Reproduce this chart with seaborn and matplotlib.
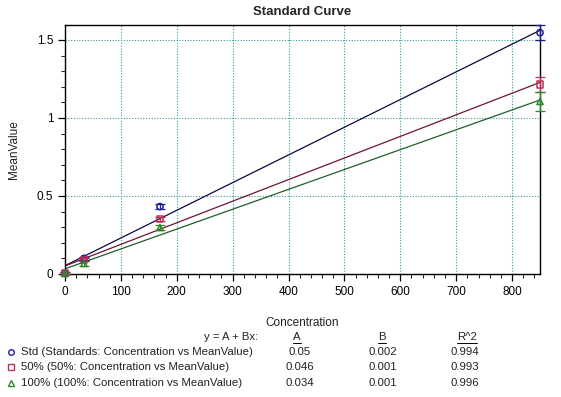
import numpy as np
import pandas as pd
import matplotlib
matplotlib.use("Agg")
import matplotlib.pyplot as plt
from matplotlib.ticker import MultipleLocator
import seaborn as sns

# ---- data ----
conc = [0, 34, 170, 850]
std_vals = [0.005, 0.10, 0.432, 1.547]
std_err = [0.008, 0.010, 0.014, 0.048]
p50_vals = [0.005, 0.092, 0.353, 1.215]
p50_err = [0.008, 0.010, 0.012, 0.050]
p100_vals = [0.003, 0.068, 0.298, 1.106]
p100_err = [0.008, 0.018, 0.016, 0.060]

series_names = ["Std (Standards: Concentration vs MeanValue)",
                "50% (50%: Concentration vs MeanValue)",
                "100% (100%: Concentration vs MeanValue)"]
coef_A = ["0.05", "0.046", "0.034"]
coef_B = ["0.002", "0.001", "0.001"]
coef_R2 = ["0.994", "0.993", "0.996"]

x_ticks = [0, 100, 200, 300, 400, 500, 600, 700, 800]
y_ticks = [0, 0.5, 1, 1.5]
y_tick_labels = ["0", "0.5", "1", "1.5"]

sns.set_style("white")
plt.rcParams['font.family'] = ['Liberation Sans', 'DejaVu Sans']

fig = plt.figure(figsize=(5.61, 3.97), dpi=100)
ax = fig.add_axes([65/561, 1-274/397, 475/561, 249/397])

marker_cols = ["#1c1c9c", "#c0305a", "#2a8a2a"]
line_cols = ["#0a0a40", "#701530", "#1f5f2a"]
markers = ["o", "s", "^"]
vals_list = [std_vals, p50_vals, p100_vals]
err_list = [std_err, p50_err, p100_err]

for vals, errs, mc, lc, mk in zip(vals_list, err_list, marker_cols, line_cols, markers):
    df = pd.DataFrame({"Concentration": conc, "MeanValue": vals})
    sns.regplot(data=df, x="Concentration", y="MeanValue", ax=ax, ci=None,
                scatter=False, line_kws=dict(color=lc, lw=0.9), truncate=True)
    eb = ax.errorbar(conc, vals, yerr=errs, fmt="none", ecolor=mc, elinewidth=0.9,
                     capsize=3.5, capthick=0.9, zorder=4)
    for art in eb.lines[1] + eb.lines[2]:
        art.set_clip_on(False)
    ax.scatter(conc, vals, marker=mk, s=20, facecolors="none", edgecolors=mc,
               linewidths=1.1, zorder=5, clip_on=False)

ax.set_xlim(0, 850)
ax.set_ylim(0, 1.596)
ax.set_xticks(x_ticks)
ax.set_yticks(y_ticks)
ax.set_yticklabels(y_tick_labels)
ax.xaxis.set_minor_locator(MultipleLocator(20))
ax.yaxis.set_minor_locator(MultipleLocator(0.1))
ax.tick_params(axis="both", which="major", direction="out", length=5, width=0.9,
               labelsize=8.5, colors="black", left=True, bottom=True)
ax.tick_params(axis="both", which="minor", direction="out", length=3, width=0.8,
               left=True, bottom=True)
ax.grid(True, which="major", color="#3a9a9a", linestyle=(0, (1, 1.5)), linewidth=0.8)
for s in ax.spines.values():
    s.set_color("black")
    s.set_linewidth(1.0)
ax.set_xlabel("Concentration", fontsize=8.5, labelpad=14, color="#222222")
ax.set_ylabel("MeanValue", fontsize=8.5, labelpad=12, color="#222222")
fig.text(302/561, 1-12/397, "Standard Curve", ha="center", va="center",
         fontsize=9.5, fontweight="bold")

# ---- fit table ----
fs = 8.2
tc = "#222222"
fig.text(258/561, 1-337/397, "y = A + Bx:", ha="right", va="center", fontsize=fs, color=tc)
for xc, h in [(297, "A"), (382, "B"), (467, "R^2")]:
    fig.text(xc/561, 1-337/397, h, ha="center", va="center", fontsize=fs, color=tc)
row_y = [352, 367, 383]
for i in range(3):
    yy = 1 - row_y[i]/397
    fig.lines.append(plt.Line2D([11/561], [yy], transform=fig.transFigure,
                                marker=markers[i], markersize=4, markerfacecolor="none",
                                markeredgecolor=marker_cols[i], markeredgewidth=1.0,
                                linestyle="none"))
    fig.text(21/561, yy, series_names[i], ha="left", va="center", fontsize=fs, color=tc)
    fig.text(300/561, yy, coef_A[i], ha="center", va="center", fontsize=fs, color=tc)
    fig.text(383/561, yy, coef_B[i], ha="center", va="center", fontsize=fs, color=tc)
    fig.text(465/561, yy, coef_R2[i], ha="center", va="center", fontsize=fs, color=tc)
# underlines for headers
for xc, w in [(297, 8), (382, 8), (467, 20)]:
    fig.lines.append(plt.Line2D([(xc - w/2)/561, (xc + w/2)/561], [1-343/397, 1-343/397],
                                transform=fig.transFigure, color="black", lw=0.7))

fig.savefig("out.png", dpi=100)
